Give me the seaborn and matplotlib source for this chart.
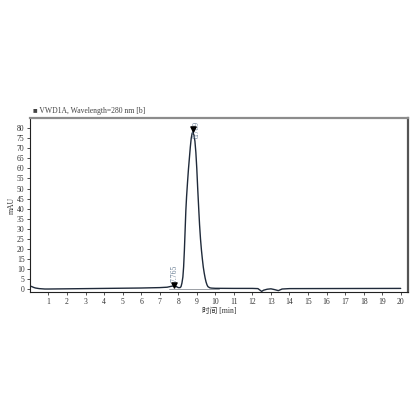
import numpy as np
import pandas as pd
import seaborn as sns
import matplotlib.pyplot as plt

# trace (time in min, signal in mAU)
time_min = [0.0, 0.1, 0.2, 0.3, 0.5, 0.8, 1.0, 2.0, 3.0, 4.0, 5.0, 6.0, 7.0,
            7.4, 7.6, 7.765, 7.9, 8.0, 8.1, 8.15, 8.2, 8.25, 8.29, 8.33, 8.37,
            8.41, 8.45, 8.5, 8.55, 8.6, 8.65, 8.7, 8.75, 8.789, 8.85, 8.9,
            8.95, 9.0, 9.05, 9.11, 9.15, 9.2, 9.25, 9.3, 9.35, 9.4, 9.45, 9.5,
            9.55, 9.6, 9.7, 9.8, 10.0, 11.0, 12.0, 12.3, 12.5, 12.6, 12.8,
            13.0, 13.2, 13.4, 13.6, 14.0, 20.0]
signal_mau = [1.5, 1.2, 0.8, 0.5, 0.2, 0.0, 0.0, 0.1, 0.2, 0.3, 0.4, 0.5, 0.7,
              0.9, 1.3, 1.6, 1.2, 0.7, 0.7, 1.2, 3.0, 6.0, 11.0, 19.0, 29.0,
              39.0, 46.0, 53.0, 59.5, 65.0, 70.5, 75.0, 77.5, 78.0, 76.5, 73.5,
              68.0, 60.0, 50.0, 39.0, 32.0, 25.0, 19.5, 15.0, 11.0, 8.0, 5.5,
              3.5, 2.1, 1.2, 0.6, 0.45, 0.35, 0.3, 0.3, 0.2, -1.2, -0.6, -0.1,
              0.1, -0.3, -0.8, 0.0, 0.2, 0.3]

peak_rt = [7.765, 8.789]
peak_top = [1.8, 79.5]
peak_labels = ["7.765", "8.789"]

x_ticks = list(range(1, 21))
y_ticks = list(range(0, 85, 5))

df = pd.DataFrame({"time": time_min, "signal": signal_mau})

sns.set_style("white")
plt.rcParams['font.family'] = ['Liberation Serif', 'Noto Sans CJK SC', 'DejaVu Sans']

fig = plt.figure(figsize=(4.16, 4.16), dpi=100)
ax = fig.add_axes([0.072, 0.298, 0.909, 0.418])

sns.lineplot(data=df, x="time", y="signal", ax=ax, color="#1f2a3a", linewidth=1.0)

# integration baseline
ax.plot([7.5, 10.2], [0.2, 0.2], color="#8a8f96", linewidth=0.6)

# peak markers and retention time labels
ax.scatter(peak_rt, peak_top, marker="v", color="black", s=14, zorder=5)
ax.text(peak_rt[0] + 0.02, peak_top[0] + 1.5, peak_labels[0], rotation=90,
        ha="center", va="bottom", fontsize=5.5, color="#6a7f95")
ax.text(peak_rt[1] + 0.22, peak_top[1], peak_labels[1], rotation=90,
        ha="center", va="center", fontsize=5.5, color="#6a7f95")

ax.set_xlim(0, 20.4)
ax.set_ylim(-1.5, 85)
ax.set_xticks(x_ticks)
ax.set_yticks(y_ticks)
ax.tick_params(axis="both", labelsize=5.5, length=2.5, width=0.6,
               direction="out", pad=1.5, colors="#333333")
ax.tick_params(axis="both", bottom=True, left=True)

ax.set_xlabel("时间 [min]", fontsize=5.5, labelpad=1, color="#333333")
ax.set_ylabel("mAU", fontsize=5.5, labelpad=1, color="#333333")

for side in ["left", "bottom"]:
    ax.spines[side].set_color("#222222")
    ax.spines[side].set_linewidth(0.8)
ax.spines["top"].set_color("#8c8c8c")
ax.spines["top"].set_linewidth(1.6)
ax.spines["right"].set_color("#555555")
ax.spines["right"].set_linewidth(1.6)

fig.text(0.079, 0.733, "■ VWD1A, Wavelength=280 nm [b]", fontsize=5.5,
         color="#444444", va="center", ha="left")

fig.savefig("out.png", dpi=100, facecolor="white")
